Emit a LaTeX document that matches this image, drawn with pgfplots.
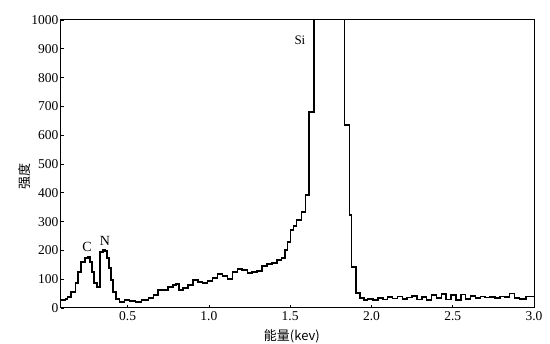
\documentclass[border=0pt]{standalone}
\usepackage{pgfplots}
\pgfplotsset{compat=1.18}
\usepackage{fontspec}
\setmainfont{Liberation Serif}
\newfontfamily\cjk{Noto Sans CJK SC}
\begin{document}
\begin{tikzpicture}
\useasboundingbox (-61pt,-36pt) rectangle (489pt,308pt);
\begin{axis}[at={(0,0)}, anchor=south west, scale only axis,
  width=473pt, height=288pt,
  xmin=0.09, xmax=3.0, ymin=0, ymax=1000,
  xtick={0.5,1,1.5,2,2.5,3}, ytick={0,100,200,300,400,500,600,700,800,900,1000},
  xticklabel style={/pgf/number format/fixed, /pgf/number format/fixed zerofill, /pgf/number format/precision=1},
  /pgf/number format/1000 sep={},
  /pgf/number format/assume math mode=true,
  ticklabel style={font=\fontsize{13.5}{15}\selectfont},
  yticklabel style={xshift=1pt},
  tick align=inside, xtick pos=bottom, ytick pos=left, major tick length=3pt,
  axis line style={line width=1pt}, tick style={black, line width=0.8pt},
  xlabel={\cjk 能量(kev)}, ylabel={\cjk 强度},
  label style={font=\fontsize{13}{15}\selectfont},
  xlabel style={at={(axis description cs:0.488,-0.10)}, anchor=center},
  ylabel style={at={(axis description cs:-0.076,0.458)}, anchor=center},
]
\addplot[const plot mark left, black, line width=1.5pt] coordinates {
(0.087,28) (0.117,31) (0.129,38) (0.153,56) (0.178,87) (0.196,125) (0.214,160)
(0.239,174) (0.257,177) (0.269,160) (0.281,125) (0.293,87) (0.312,73) (0.324,73)
(0.330,194) (0.348,201) (0.360,198) (0.372,174) (0.385,139) (0.397,97) (0.409,56)
(0.427,31) (0.451,21) (0.482,28) (0.512,24) (0.549,21) (0.585,28) (0.628,35)
(0.658,45) (0.688,63) (0.719,63) (0.749,73) (0.780,80) (0.798,83) (0.816,63)
(0.840,69) (0.871,80) (0.901,97) (0.932,90) (0.962,87) (0.992,94) (1.023,104)
(1.053,118) (1.084,111) (1.114,101) (1.144,125) (1.175,135) (1.205,132) (1.236,122)
(1.266,125) (1.296,128) (1.327,146) (1.357,153) (1.388,156) (1.418,167) (1.448,174)
(1.467,201) (1.485,229) (1.503,271) (1.521,285) (1.540,306) (1.570,333) (1.594,392)
(1.615,681) (1.645,1500) (1.835,635) (1.866,323) (1.878,142) (1.905,52) (1.930,35)
(1.953,28) (1.977,31) (2.008,28) (2.04,35) (2.07,30) (2.10,38) (2.13,33) (2.16,40)
(2.19,32) (2.22,36) (2.25,42) (2.28,30) (2.31,38) (2.34,28) (2.37,45) (2.40,35)
(2.43,48) (2.46,30) (2.49,45) (2.52,28) (2.55,47) (2.58,32) (2.61,42) (2.64,35)
(2.67,40) (2.70,36) (2.73,38) (2.76,34) (2.79,40) (2.82,38) (2.85,50) (2.88,35)
(2.91,32) (2.95,40) (3.0,40)
};
\node[font=\fontsize{14}{16}\selectfont] at (axis cs:0.25,212) {C};
\node[font=\fontsize{14}{16}\selectfont] at (axis cs:0.36,232) {N};
\node[font=\fontsize{13}{15}\selectfont] at (axis cs:1.56,930) {Si};
\end{axis}
\end{tikzpicture}
\end{document}
